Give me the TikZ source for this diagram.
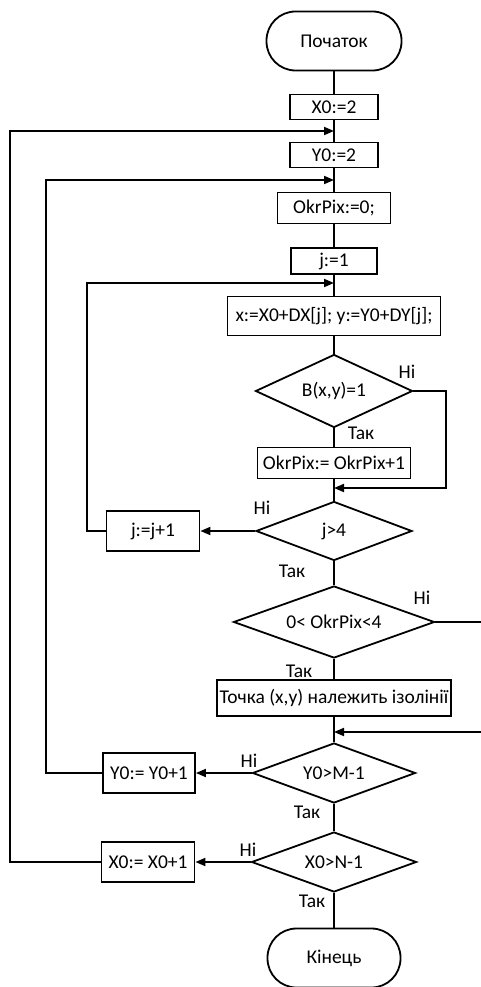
\documentclass[tikz,border=0pt]{standalone}
\usepackage{fontspec}
\setmainfont{Carlito}
\usetikzlibrary{arrows.meta,shapes.geometric}
\tikzset{arr/.style={-{Triangle[length=10pt,width=8pt]}}}
\begin{document}
\begin{tikzpicture}[x=1pt,y=-1pt,line width=1.8pt,
  font=\fontsize{19.5}{23}\selectfont,
  proc/.style={rectangle,draw=black,inner sep=0pt},
  term/.style={rectangle,draw=black,rounded corners=29pt,minimum width=135pt,minimum height=59pt},
  cond/.style={diamond,draw=black,inner sep=0pt},
  lbl/.style={inner sep=0pt}]
\useasboundingbox (0,0) rectangle (480,987);
% \draw[help lines] (0,0) grid (480,987);
\node (start) [term] at (334,41) {Початок};
\node (x0) [proc,minimum width=88pt,minimum height=25pt] at (334,107) {X0:=2};
\node (y0) [proc,minimum width=88pt,minimum height=25pt] at (334,155) {Y0:=2};
\node (okr0) [proc,minimum width=113pt,minimum height=31pt] at (334,208) {OkrPix:=0;};
\node (j1) [proc,minimum width=86pt,minimum height=26pt] at (334,261) {j:=1};
\node (xy) [proc,minimum width=213pt,minimum height=39pt] at (334,316) {x:=X0+DX[j]; y:=Y0+DY[j];};
\node (bxy) [cond,aspect=2.15,minimum width=157pt,minimum height=73pt] at (334,391) {B(x,y)=1};
\node (inc) [proc,minimum width=153pt,minimum height=31pt] at (334,463) {OkrPix:= OkrPix+1};
\node (jq) [cond,aspect=2.64,minimum width=156pt,minimum height=59pt] at (334,531) {j>4};
\node (jinc) [proc,minimum width=93pt,minimum height=40pt] at (153,531) {j:=j+1};
\node (oq) [cond,aspect=2.79,minimum width=201pt,minimum height=72pt] at (334,622) {0< OkrPix<4};
\node (pt) [proc,minimum width=234pt,minimum height=36pt] at (334,698) {Точка (x,y) належить ізолінії};
\node (yq) [cond,aspect=2.72,minimum width=163pt,minimum height=60pt] at (334,773) {Y0>M-1};
\node (yinc) [proc,minimum width=92pt,minimum height=40pt] at (149,773) {Y0:= Y0+1};
\node (xq) [cond,aspect=2.75,minimum width=165pt,minimum height=60pt] at (334,862) {X0>N-1};
\node (xinc) [proc,minimum width=93pt,minimum height=40pt] at (148,862) {X0:= X0+1};
\node (stop) [term,minimum width=133pt] at (334,958) {Кінець};
%
\node (n1) [lbl] at (407,372) {Ні};
\node (t1) [lbl] at (361,433) {Так};
\node (n2) [lbl] at (262,508) {Ні};
\node (t2) [lbl] at (292,571) {Так};
\node (n3) [lbl] at (422,598) {Ні};
\node (t3) [lbl] at (299,671) {Так};
\node (n4) [lbl] at (249,761) {Ні};
\node (t4) [lbl] at (307,812) {Так};
\node (n5) [lbl] at (248,850) {Ні};
\node (t5) [lbl] at (312,901) {Так};
%
\coordinate (m1) at (334,488);
\coordinate (m2) at (334,283);
\coordinate (m3) at (334,732);
\coordinate (m4) at (334,180);
\coordinate (m5) at (334,131);
\coordinate (r1) at (446,488);
\coordinate (r2) at (496,622);
\coordinate (r3) at (496,732);
\coordinate (l1) at (87,283);
\coordinate (l2) at (46,180);
\coordinate (l3) at (10,131);
%
\path (start) edge (x0);
\path (x0) edge (y0);
\path (y0) edge (okr0);
\path (okr0) edge (j1);
\path (j1) edge (xy);
\path (xy) edge (bxy);
\path (bxy) edge (inc);
\path (inc) edge (jq);
\path (jq) edge (oq);
\path (oq) edge (pt);
\path (pt) edge (yq);
\path (yq) edge (xq);
\path (xq) edge (stop);
%
\draw[arr] (bxy.east) -| (r1) -- (m1);
\draw[arr] (jq.west) -- (jinc.east);
\draw[arr] (jinc.west) -| (l1) -- (m2);
\draw[arr] (oq.east) -- (r2) -- (r3) -- (m3);
\draw[arr] (yq.west) -- (yinc.east);
\draw[arr] (yinc.west) -| (l2) -- (m4);
\draw[arr] (xq.west) -- (xinc.east);
\draw[arr] (xinc.west) -| (l3) -- (m5);
\end{tikzpicture}
\end{document}
